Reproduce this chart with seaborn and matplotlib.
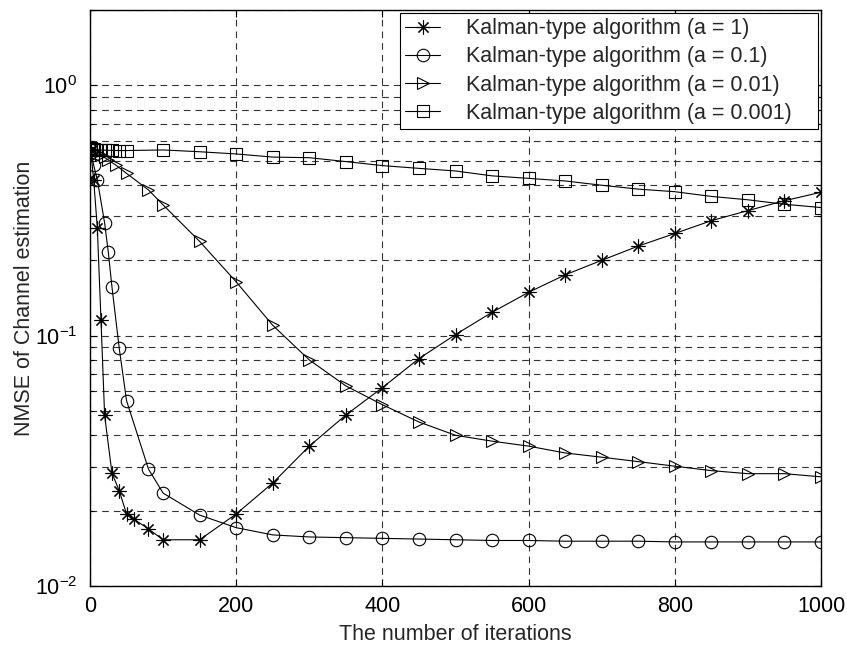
import numpy as np
import pandas as pd
import matplotlib
matplotlib.use("Agg")
import matplotlib.pyplot as plt
import seaborn as sns
from matplotlib.ticker import LogLocator, NullFormatter, FixedLocator

sns.set_theme(style="white")
plt.rcParams['font.family'] = ['Liberation Sans', 'DejaVu Sans']
plt.rcParams['mathtext.fontset'] = 'custom'
plt.rcParams['mathtext.rm'] = 'Liberation Sans'

# ---- data ----
x_a1 = [1, 5, 10, 15, 20, 30, 40, 50, 60, 80, 100, 150, 200, 250, 300, 350, 400,
        450, 500, 550, 600, 650, 700, 750, 800, 850, 900, 950, 1000]
y_a1 = [0.55, 0.42, 0.27, 0.116, 0.048, 0.0283, 0.024, 0.0194, 0.0185, 0.0169, 0.0153,
        0.0153, 0.0194, 0.0258, 0.0362, 0.0482, 0.062, 0.081, 0.101, 0.124, 0.149,
        0.175, 0.200, 0.228, 0.256, 0.288, 0.316, 0.346, 0.374]

x_a01 = [1, 5, 10, 20, 25, 30, 40, 50, 80, 100, 150, 200, 250, 300, 350, 400, 450,
         500, 550, 600, 650, 700, 750, 800, 850, 900, 950, 1000]
y_a01 = [0.55, 0.48, 0.42, 0.282, 0.216, 0.157, 0.089, 0.055, 0.0293, 0.0235, 0.0192,
         0.0171, 0.0160, 0.0157, 0.0156, 0.0155, 0.0154, 0.0153, 0.0152, 0.0152, 0.0151,
         0.0151, 0.0151, 0.0150, 0.0150, 0.0150, 0.0150, 0.0150]

x_a001 = [1, 5, 10, 15, 20, 25, 35, 50, 80, 100, 150, 200, 250, 300, 350, 400, 450,
          500, 550, 600, 650, 700, 750, 800, 850, 900, 950, 1000]
y_a001 = [0.55, 0.545, 0.535, 0.525, 0.515, 0.503, 0.481, 0.445, 0.382, 0.333, 0.238,
          0.164, 0.110, 0.080, 0.063, 0.053, 0.0452, 0.040, 0.0379, 0.0362, 0.034,
          0.0327, 0.0314, 0.0301, 0.0289, 0.0281, 0.0281, 0.0273]

x_a0001 = [1, 5, 10, 15, 20, 25, 30, 40, 50, 100, 150, 200, 250, 300, 350, 400, 450,
           500, 550, 600, 650, 700, 750, 800, 850, 900, 950, 1000]
y_a0001 = [0.56, 0.556, 0.553, 0.552, 0.551, 0.550, 0.550, 0.549, 0.549, 0.552, 0.543,
           0.532, 0.517, 0.514, 0.496, 0.478, 0.466, 0.455, 0.435, 0.425, 0.415, 0.399,
           0.385, 0.376, 0.360, 0.349, 0.335, 0.325]

labels = ["Kalman-type algorithm (a = 1)", "Kalman-type algorithm (a = 0.1)",
          "Kalman-type algorithm (a = 0.01)", "Kalman-type algorithm (a = 0.001)"]
x_ticks = [0, 200, 400, 600, 800, 1000]
x_label = "The number of iterations"
y_label = "NMSE of Channel estimation"

fig = plt.figure(figsize=(8.47, 6.48), dpi=100)
ax_w = (821 - 90) / 847
ax_h = (586 - 10) / 648
ax = fig.add_axes([90/847, 1-586/648, ax_w, ax_h])

series = [(x_a1, y_a1, (8, 2, 0), 10), (x_a01, y_a01, 'o', 9),
          (x_a001, y_a001, '>', 9), (x_a0001, y_a0001, 's', 9)]
for (xs, ys, mk, ms), lab in zip(series, labels):
    sns.lineplot(x=xs, y=ys, ax=ax, color='black', linewidth=0.8, marker=mk,
                 markersize=ms, markerfacecolor='none', markeredgecolor='black',
                 markeredgewidth=0.8, label=lab, sort=False, estimator=None)

ax.set_yscale('log')
ax.set_xlim(0, 1000)
ax.set_ylim(0.01, 2)
ax.xaxis.set_major_locator(FixedLocator(x_ticks))
ax.yaxis.set_major_locator(LogLocator(base=10, numticks=10))
ax.yaxis.set_minor_locator(LogLocator(base=10, subs=np.arange(2, 10), numticks=10))
ax.yaxis.set_minor_formatter(NullFormatter())

grid_kw = dict(color='0.2', linestyle=(0, (6, 4.5)), linewidth=0.8)
ax.grid(True, which='major', axis='both', **grid_kw)
ax.grid(True, which='minor', axis='y', **grid_kw)

ax.tick_params(which='both', direction='in', top=True, right=True, bottom=True, left=True,
               colors='black', labelsize=15.5, length=5, width=0.8)
ax.tick_params(axis='x', which='major', pad=7)
ax.tick_params(axis='y', which='major', pad=9)
ax.tick_params(which='minor', length=3)
for s in ax.spines.values():
    s.set_color('black')
    s.set_linewidth(1.0)

ax.set_xlabel(x_label, fontsize=15.5, labelpad=5)
ax.set_ylabel(y_label, fontsize=15.5, labelpad=0)

# legend box spanning approx x=400..818 px, top at ~13 px
lx0 = (400 - 90) / (821 - 90)
lw_ = (818 - 400) / (821 - 90)
ly_top = 1 - (13 - 10) / (586 - 10)
leg = ax.legend(loc='upper left', bbox_to_anchor=(lx0, ly_top, lw_, 0.0), mode='expand',
                fontsize=15.5, frameon=True, fancybox=False,
                edgecolor='black', framealpha=1, borderaxespad=0.0, handlelength=1.6,
                labelspacing=0.33, borderpad=0.25, handletextpad=1.2, numpoints=1)
leg.get_frame().set_linewidth(0.8)

fig.savefig('out.png', dpi=100, facecolor='white')
